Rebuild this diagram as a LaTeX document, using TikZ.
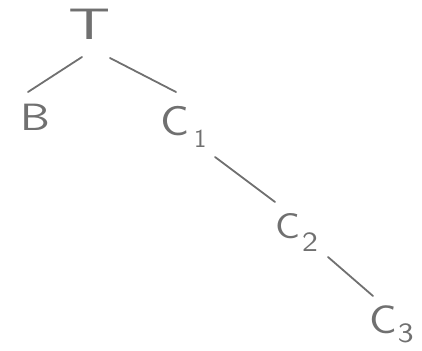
\documentclass[tikz,border=0pt]{standalone}
\usetikzlibrary{calc}
\begin{document}
\begin{tikzpicture}[x=1pt,y=-1pt,
  lbl/.style={text=ink,font=\sffamily,inner sep=0pt,anchor=base west},
  edge/.style={draw=ink,line width=1.8pt,line cap=round}]
\definecolor{ink}{RGB}{112,112,112}
\useasboundingbox (0,0) rectangle (422,350);
\node[lbl,font=\sffamily\fontsize{44}{44}\selectfont] (T) at (68,40) {\scalebox{1.5}[1]{T}};
\node[lbl,font=\sffamily\fontsize{38}{38}\selectfont] (B) at (20,130) {\scalebox{1.25}[1]{B}};
\node[lbl,font=\sffamily\fontsize{42}{42}\selectfont] (C1) at (160,135) {\scalebox{1.15}[1]{C}\hspace{5pt}\raisebox{-12pt}{\fontsize{26}{26}\selectfont 1}};
\node[lbl,font=\sffamily\fontsize{36}{36}\selectfont] (C2) at (275,238) {\scalebox{1.15}[1]{C}\hspace{2pt}\raisebox{-13pt}{\fontsize{28}{28}\selectfont\scalebox{1.2}[1]{2}}};
\node[lbl,font=\sffamily\fontsize{40}{40}\selectfont] (C3) at (369,333) {\scalebox{1.15}[1]{C}\hspace{1pt}\raisebox{-9pt}{\fontsize{28}{28}\selectfont\scalebox{1.2}[1]{3}}};
\draw[edge] ($(T.base west)+(14,17)$) -- ($(B.base west)+(8,-38)$);
\draw[edge] ($(T.base west)+(42,18)$) -- ($(C1.base west)+(16,-43)$);
\draw[edge] ($(C1.base west)+(55,22)$) -- ($(C2.base west)+(0,-36)$);
\draw[edge] ($(C2.base west)+(53,19)$) -- ($(C3.base west)+(4,-37)$);
\end{tikzpicture}
\end{document}
